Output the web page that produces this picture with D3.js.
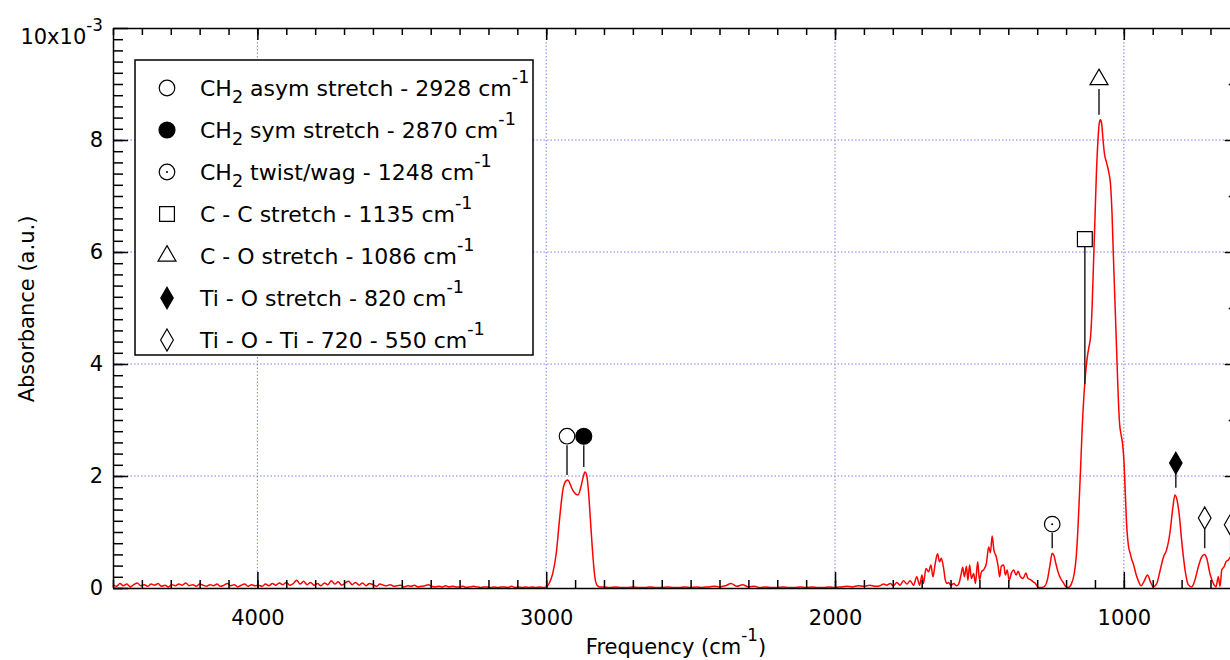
<!DOCTYPE html>
<html lang="en">
<head>
<meta charset="UTF-8">
<title>FTIR absorbance spectrum</title>
<script src="https://d3js.org/d3.v7.min.js"></script>
<style>
  body { margin: 0; background: #fff; }
  svg { display: block; font-family: "DejaVu Sans", Verdana, sans-serif; }
  .grid line { stroke: #7f7fff; stroke-width: 1; stroke-dasharray: 1.5 2; }
  .axis path, .axis line { stroke: #000; stroke-width: 1.5; }
  .axis text { font-size: 21px; fill: #000; font-family: "DejaVu Sans", Verdana, sans-serif; }
</style>
</head>
<body>
<div id="chart"></div>
<script>
// spectrum, 4500 -> 3012 cm-1 every 12 cm-1 (baseline noise)
const hfStart = 4500, hfStep = 12;
const hfBaseline = [
  0.06, 0.03, 0.08, 0.04, 0.07, 0.02, 0.06, 0.09, 0.04, 0.06,
  0.03, 0.07, 0.05, 0.08, 0.03, 0.05, 0.02, 0.06, 0.04, 0.07,
  0.05, 0.09, 0.04, 0.06, 0.03, 0.07, 0.05, 0.03, 0.06, 0.04,
  0.07, 0.03, 0.05, 0.08, 0.04, 0.06, 0.02, 0.05, 0.07, 0.03,
  0.06, 0.04, 0.05, 0.03, 0.07, 0.04, 0.08, 0.05, 0.09, 0.06,
  0.10, 0.05, 0.08, 0.14, 0.07, 0.12, 0.06, 0.10, 0.05, 0.08,
  0.04, 0.09, 0.06, 0.13, 0.07, 0.11, 0.05, 0.09, 0.12, 0.06,
  0.10, 0.05, 0.09, 0.04, 0.08, 0.06, 0.03, 0.07, 0.05, 0.04,
  0.06, 0.03, 0.04, 0.05, 0.02, 0.04, 0.03, 0.05, 0.02, 0.03,
  0.04, 0.06, 0.03, 0.02, 0.03, 0.02, 0.04, 0.02, 0.03, 0.02,
  0.02, 0.03, 0.01, 0.02, 0.03, 0.02, 0.01, 0.02, 0.02, 0.01,
  0.02, 0.01, 0.02, 0.02, 0.01, 0.03, 0.01, 0.02, 0.01, 0.02,
  0.01, 0.02, 0.01, 0.02, 0.01
];

// CH2 stretching doublet [cm-1, absorbance x1e-3]
const chBand = [
  [3000, 0.02], [2990, 0.08], [2977, 0.27], [2965, 0.63], [2954, 1.22],
  [2942, 1.76], [2932, 1.91], [2925, 1.93], [2919, 1.88], [2913, 1.80],
  [2902, 1.70], [2890, 1.66], [2881, 1.78], [2872, 1.98], [2866, 2.07],
  [2860, 2.02], [2854, 1.75], [2848, 1.30], [2840, 0.68], [2832, 0.21],
  [2824, 0.05], [2815, 0.02]
];

// 2800 -> 1860 cm-1 every 20 cm-1
const midStart = 2800, midStep = 20;
const midBaseline = [
  0.02, 0.01, 0.02, 0.01, 0.01, 0.02, 0.01, 0.01, 0.02, 0.01,
  0.01, 0.02, 0.01, 0.01, 0.02, 0.01, 0.02, 0.01, 0.02, 0.03,
  0.02, 0.04, 0.08, 0.03, 0.06, 0.02, 0.03, 0.01, 0.02, 0.01,
  0.01, 0.02, 0.01, 0.01, 0.02, 0.01, 0.02, 0.01, 0.01, 0.02,
  0.01, 0.02, 0.03, 0.02, 0.04, 0.03, 0.05, 0.03
];

// fingerprint region down to the low-frequency edge
const fingerprint = [
  [1844, 0.04], [1832, 0.07], [1821, 0.05], [1809, 0.08], [1798, 0.04],
  [1786, 0.10], [1775, 0.05], [1763, 0.13], [1751, 0.07], [1740, 0.13],
  [1728, 0.05], [1717, 0.20], [1707, 0.05], [1699, 0.23], [1694, 0.08],
  [1685, 0.35], [1676, 0.29], [1668, 0.41], [1661, 0.20], [1653, 0.44],
  [1645, 0.61], [1638, 0.47], [1632, 0.53], [1624, 0.35], [1618, 0.14],
  [1612, 0.08], [1607, 0.10], [1599, 0.05], [1589, 0.08], [1580, 0.04],
  [1572, 0.07], [1564, 0.23], [1558, 0.37], [1552, 0.20], [1545, 0.39],
  [1540, 0.14], [1534, 0.41], [1528, 0.17], [1520, 0.26], [1514, 0.08],
  [1506, 0.47], [1500, 0.14], [1493, 0.29], [1485, 0.33], [1476, 0.44],
  [1468, 0.73], [1462, 0.63], [1456, 0.93], [1450, 0.68], [1442, 0.56],
  [1435, 0.38], [1430, 0.20], [1424, 0.39], [1416, 0.41], [1410, 0.23],
  [1404, 0.32], [1397, 0.14], [1389, 0.27], [1381, 0.32], [1373, 0.23],
  [1366, 0.30], [1358, 0.20], [1349, 0.17], [1339, 0.27], [1332, 0.17],
  [1323, 0.15], [1314, 0.11], [1306, 0.08], [1298, 0.02], [1288, 0.01],
  [1277, 0.02], [1265, 0.14], [1256, 0.40], [1248, 0.62], [1242, 0.58],
  [1236, 0.45], [1228, 0.29], [1219, 0.17], [1210, 0.10], [1200, 0.02],
  [1192, 0.01], [1182, 0.07], [1172, 0.25], [1165, 0.55], [1160, 0.95],
  [1156, 1.40], [1150, 2.10], [1144, 2.88], [1138, 3.45], [1133, 3.80],
  [1127, 4.10], [1121, 4.30], [1115, 4.50], [1110, 5.00], [1105, 5.80],
  [1100, 6.60], [1095, 7.40], [1090, 7.96], [1085, 8.30], [1081, 8.36],
  [1077, 8.30], [1072, 8.00], [1067, 7.75], [1060, 7.60], [1052, 7.42],
  [1046, 7.20], [1041, 6.70], [1036, 5.90], [1030, 5.00], [1025, 4.25],
  [1020, 3.50], [1015, 2.95], [1010, 2.75], [1005, 2.60], [1000, 2.30],
  [995, 1.70], [990, 1.10], [984, 0.75], [978, 0.62], [972, 0.50],
  [967, 0.43], [958, 0.25], [950, 0.13], [940, 0.04], [930, 0.12],
  [918, 0.23], [907, 0.10], [898, 0.02], [886, 0.08], [875, 0.30],
  [863, 0.55], [852, 0.68], [840, 1.00], [830, 1.45], [823, 1.66],
  [815, 1.55], [808, 1.30], [800, 0.86], [788, 0.32], [777, 0.06],
  [765, 0.02], [754, 0.14], [742, 0.38], [730, 0.56], [721, 0.60],
  [713, 0.53], [702, 0.26], [690, 0.08], [681, 0.02], [673, 0.20],
  [667, 0.03], [661, 0.32], [653, 0.38], [646, 0.47], [638, 0.50],
  [630, 0.56]
];

// band assignments: position, symbol, symbol height and stem (absorbance units)
const bandWn     = [2928, 2870, 1248, 1135, 1086, 820, 720, 630];
const bandSymbol = ["circle", "circleFilled", "circleDot", "square", "triangle", "diamondFilled", "diamond", "diamond"];
const bandMarkA  = [2.71, 2.71, 1.14, 6.23, 9.08, 2.23, 1.25, 1.13];
const bandStemA  = [[2.55, 2.02], [2.55, 2.16], [0.98, 0.71], [6.09, 3.64],
                    [8.91, 8.45], [2.05, 1.79], [1.05, 0.71], [0.93, 0.55]];

const legendLabels = [
  "CH_2 asym stretch - 2928 cm^-1",
  "CH_2 sym stretch - 2870 cm^-1",
  "CH_2 twist/wag - 1248 cm^-1",
  "C - C stretch - 1135 cm^-1",
  "C - O stretch - 1086 cm^-1",
  "Ti - O stretch - 820 cm^-1",
  "Ti - O - Ti - 720 - 550 cm^-1"
];

const xDomain = [4500, 630];
const xMajor = [4000, 3000, 2000, 1000];
const yMajor = [0, 2, 4, 6, 8, 10];
const yGrid = [2, 4, 6, 8];

const width = 1230, height = 660;

const svg = d3.select("#chart").append("svg")
  .attr("width", width)
  .attr("height", height);

const x = d3.scaleLinear().domain(xDomain).range([113, 1230.7]);
const y = d3.scaleLinear().domain([0, 10]).range([588, 28]);

// text with _sub and ^sup pieces
function richText(sel, str, size) {
  const parts = str.split(/(_\d|\^-?\d+)/).filter(s => s);
  let shift = 0;
  parts.forEach(p => {
    let dy = 0, fs = null, t = p;
    if (p[0] === "_") { t = p.slice(1); dy = size * 0.32; fs = size * 0.8; }
    else if (p[0] === "^") { t = p.slice(1); dy = -size * 0.6; fs = size * 0.8; }
    const ts = sel.append("tspan").text(t).attr("dy", dy - shift);
    if (fs) ts.attr("font-size", fs);
    shift = dy;
  });
}

// dotted grid
const grid = svg.append("g").attr("class", "grid");
grid.selectAll(".gx").data(xMajor).join("line")
  .attr("class", "gx")
  .attr("x1", d => x(d)).attr("x2", d => x(d))
  .attr("y1", y(10)).attr("y2", y(0));
grid.selectAll(".gy").data(yGrid).join("line")
  .attr("class", "gy")
  .attr("x1", x(xDomain[0])).attr("x2", x(xDomain[1]))
  .attr("y1", d => y(d)).attr("y2", d => y(d));

// spectrum
const spectrum = [
  ...hfBaseline.map((a, i) => [hfStart - i * hfStep, a]),
  ...chBand,
  ...midBaseline.map((a, i) => [midStart - i * midStep, a]),
  ...fingerprint
];

const line = d3.line()
  .x(d => x(d[0]))
  .y(d => y(d[1]))
  .curve(d3.curveMonotoneX);

svg.append("path")
  .datum(spectrum)
  .attr("fill", "none")
  .attr("stroke", "#ff0000")
  .attr("stroke-width", 1.5)
  .attr("stroke-linejoin", "round")
  .attr("d", line);

// axes, all ticks pointing inward
const minorX = d3.range(700, 4501, 100);
const minorY = d3.range(0, 50).map(i => i * 0.2);

svg.append("g").attr("class", "axis")
  .attr("transform", `translate(0,${y(0)})`)
  .call(d3.axisBottom(x).tickValues(minorX).tickSize(-8).tickSizeOuter(0).tickFormat(""))
  .call(g => g.select(".domain").attr("stroke-width", 2.2));

svg.append("g").attr("class", "axis")
  .attr("transform", `translate(0,${y(0)})`)
  .call(d3.axisBottom(x).tickValues(xMajor).tickSize(-16).tickPadding(22).tickFormat(d3.format("d")))
  .call(g => g.select(".domain").remove());

svg.append("g").attr("class", "axis")
  .attr("transform", `translate(0,${y(10)})`)
  .call(d3.axisTop(x).tickValues(minorX).tickSize(-7).tickSizeOuter(0).tickFormat(""));

svg.append("g").attr("class", "axis")
  .attr("transform", `translate(0,${y(10)})`)
  .call(d3.axisTop(x).tickValues(xMajor).tickSize(-12).tickFormat(""))
  .call(g => g.select(".domain").remove());

svg.append("g").attr("class", "axis")
  .attr("transform", `translate(${x(xDomain[0])},0)`)
  .call(d3.axisLeft(y).tickValues(minorY).tickSize(-10).tickSizeOuter(0).tickFormat(""));

svg.append("g").attr("class", "axis")
  .attr("transform", `translate(${x(xDomain[0])},0)`)
  .call(d3.axisLeft(y).tickValues(yMajor).tickSize(-15).tickPadding(10).tickFormat(d3.format("d")))
  .call(g => g.select(".domain").remove())
  .call(g => {
    const top = g.selectAll(".tick text").filter(d => d === 10);
    top.text(null).attr("dy", null).attr("y", 15);
    richText(top, "10x10^-3", 21);
  });

svg.append("g").attr("class", "axis")
  .attr("transform", `translate(${x(xDomain[1])},0)`)
  .call(d3.axisRight(y).tickValues(d3.range(1, 10)).tickSize(0).tickFormat(""))
  .call(g => g.selectAll(".tick line").attr("x2", d => d % 2 === 0 ? -6 : -2));

// axis titles
const xTitle = svg.append("text")
  .attr("x", 676).attr("y", 654)
  .attr("text-anchor", "middle")
  .attr("font-size", 21);
richText(xTitle, "Frequency (cm^-1)", 21);

svg.append("text")
  .attr("transform", "translate(34,309) rotate(-90)")
  .attr("text-anchor", "middle")
  .attr("font-size", 21)
  .text("Absorbance (a.u.)");

// band markers
const symbolType = {
  circle: d3.symbolCircle, circleFilled: d3.symbolCircle, circleDot: d3.symbolCircle,
  square: d3.symbolSquare, triangle: d3.symbolTriangle,
  diamond: d3.symbolDiamond, diamondFilled: d3.symbolDiamond
};
const symbolSize = {
  circle: 190, circleFilled: 200, circleDot: 190, square: 220, triangle: 140,
  diamond: 140, diamondFilled: 135
};

function drawSymbol(g, kind) {
  g.append("path")
    .attr("d", d3.symbol(symbolType[kind], symbolSize[kind])())
    .attr("fill", kind.endsWith("Filled") ? "#000" : "#fff")
    .attr("stroke", "#000")
    .attr("stroke-width", 1.2);
  if (kind === "circleDot") g.append("circle").attr("r", 1).attr("fill", "#000");
}

const bands = svg.append("g");
bandWn.forEach((wn, i) => {
  bands.append("line")
    .attr("x1", x(wn)).attr("x2", x(wn))
    .attr("y1", y(bandStemA[i][0])).attr("y2", y(bandStemA[i][1]))
    .attr("stroke", "#222")
    .attr("stroke-width", 1.5);
  const g = bands.append("g").attr("transform", `translate(${x(wn)},${y(bandMarkA[i])})`);
  drawSymbol(g, bandSymbol[i]);
});

// legend
const legend = svg.append("g");
legend.append("rect")
  .attr("x", 135).attr("y", 60)
  .attr("width", 398).attr("height", 295)
  .attr("fill", "#fff")
  .attr("stroke", "#000")
  .attr("stroke-width", 1.5);

legendLabels.forEach((label, i) => {
  const cy = 88 + i * 42;
  const g = legend.append("g").attr("transform", `translate(167,${cy})`);
  drawSymbol(g, bandSymbol[i]);
  const t = legend.append("text")
    .attr("x", 200).attr("y", cy + 8)
    .attr("font-size", 22);
  richText(t, label, 22);
});
</script>
</body>
</html>
